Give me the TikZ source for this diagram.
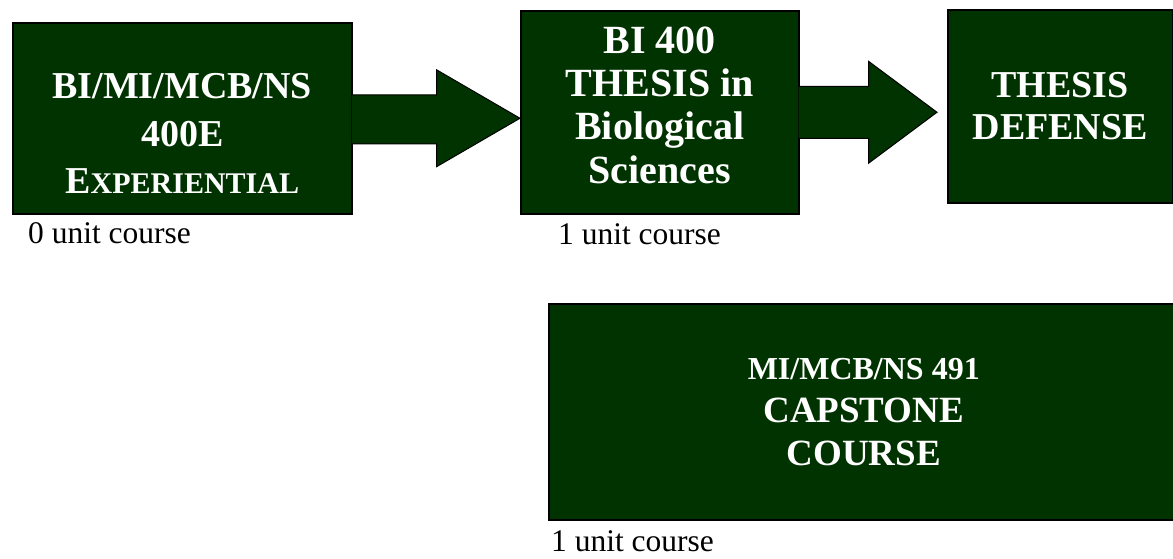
\documentclass[tikz,border=0pt]{standalone}
\usepackage{fontspec}
\setmainfont{Liberation Serif}
\usetikzlibrary{calc}
\definecolor{darkgreen}{RGB}{0,51,0}

\begin{document}
\begin{tikzpicture}[x=1pt, y=-1pt,
        box/.style={draw=black, line width=1.5pt, fill=darkgreen, inner sep=0pt, anchor=north west},
        boxline/.style={text=white, font={\bfseries\fontsize{#1}{#1}\selectfont}, anchor=base, inner sep=0pt},
        blockarrow/.style={draw=black, line width=1pt, fill=darkgreen, line join=miter},
        unit/.style={font={\fontsize{31.5}{36}\selectfont}, anchor=base west, inner sep=0pt}]
    \useasboundingbox (0, 0) rectangle (1173, 558);

    % boxes
    \node[box, minimum width=339pt, minimum height=191pt] (exp) at (12, 22) {};
    \node[box, minimum width=278pt, minimum height=203pt] (thesis) at (520, 10) {};
    \node[box, minimum width=225pt, minimum height=193pt] (defense) at (947, 9) {};
    \node[box, minimum width=630pt, minimum height=216pt] (capstone) at (548, 303) {};

    % block arrows
    \filldraw[blockarrow] ($(exp.east)+(-1, -23.5)$) -- ++(85, 0) -- ++(0, -25)
        -- (exp.east -| thesis.west) -- ($(exp.east)+(84, 48.5)$) -- ++(0, -23) -- ($(exp.east)+(-1, 25.5)$);
    \coordinate (tip) at ($(thesis.east -| defense.west)+(-10, 0)$);
    \filldraw[blockarrow] ($(thesis.east)+(-1, -26)$) -- ++(70, 0) -- ++(0, -25)
        -- (tip) -- ($(thesis.east)+(69, 51)$) -- ++(0, -25) -- ($(thesis.east)+(-1, 26)$);

    % texts in the boxes
    \node[boxline=38] (exp1) at ($(exp.north)+(0, 76)$) {BI/MI/MCB/NS};
    \node[boxline=38] (exp2) at ($(exp.north)+(0, 124)$) {400E};
    \node[boxline=38] (exp3) at ($(exp.north)+(0, 171)$) {E{\fontsize{30}{30}\selectfont XPERIENTIAL}};
    \foreach \txt [count=\i] in {BI 400, THESIS in, Biological, Sciences}
        \node[boxline=40] (thesis\i) at ($(thesis.north)+(0, 43.3*\i)$) {\txt};
    \node[boxline=38] (defense1) at ($(defense.north)+(0, 88)$) {THESIS};
    \node[boxline=38] (defense2) at ($(defense.north)+(0, 130)$) {DEFENSE};
    \node[boxline=32] (capstone1) at ($(capstone.north)+(0, 76)$) {MI/MCB/NS 491};
    \node[boxline=37] (capstone2) at ($(capstone.north)+(0, 119)$) {CAPSTONE};
    \node[boxline=37] (capstone3) at ($(capstone.north)+(0, 162)$) {COURSE};

    % units
    \node[unit] (unit0) at (28, 243) {0 unit course};
    \node[unit] (unit1) at (558, 244) {1 unit course};
    \node[unit] (unit2) at (551, 551) {1 unit course};
\end{tikzpicture}
\end{document}
